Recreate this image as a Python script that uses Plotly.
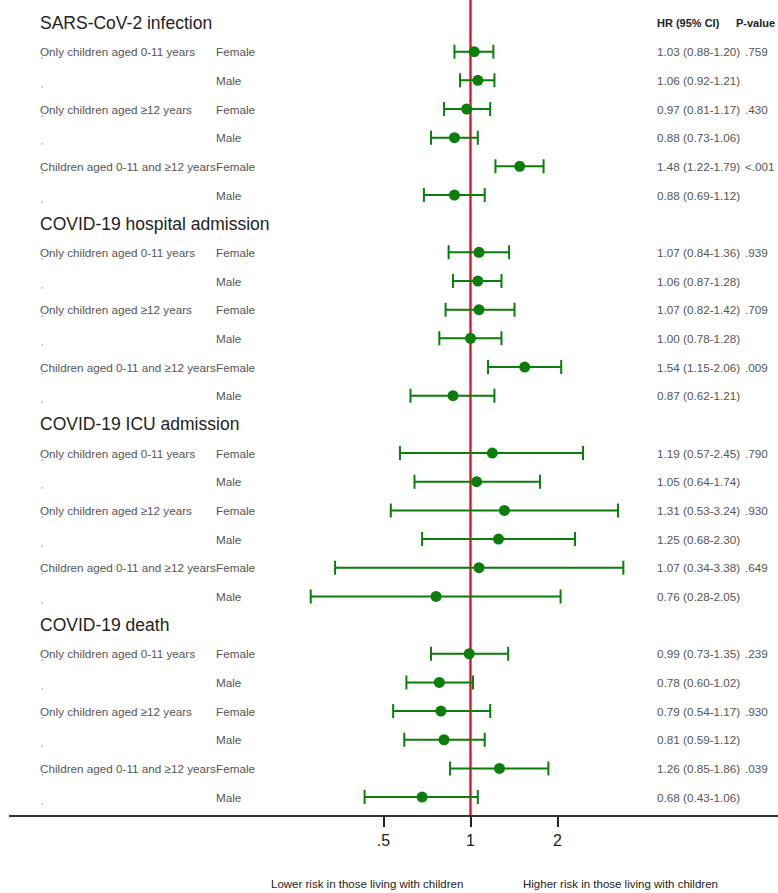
import plotly.graph_objects as go

# ---- data -------------------------------------------------------------
sections = [
    "SARS-CoV-2 infection",
    "COVID-19 hospital admission",
    "COVID-19 ICU admission",
    "COVID-19 death",
]
groups = [
    "Only children aged 0-11 years",
    "Only children aged ≥12 years",
    "Children aged 0-11 and ≥12 years",
]
sexes = ["Female", "Male"]

# hazard ratios, per section: 3 groups x (female, male)
hr = [
    [1.03, 1.06, 0.97, 0.88, 1.48, 0.88],
    [1.07, 1.06, 1.07, 1.00, 1.54, 0.87],
    [1.19, 1.05, 1.31, 1.25, 1.07, 0.76],
    [0.99, 0.78, 0.79, 0.81, 1.26, 0.68],
]
ci_low = [
    [0.88, 0.92, 0.81, 0.73, 1.22, 0.69],
    [0.84, 0.87, 0.82, 0.78, 1.15, 0.62],
    [0.57, 0.64, 0.53, 0.68, 0.34, 0.28],
    [0.73, 0.60, 0.54, 0.59, 0.85, 0.43],
]
ci_high = [
    [1.20, 1.21, 1.17, 1.06, 1.79, 1.12],
    [1.36, 1.28, 1.42, 1.28, 2.06, 1.21],
    [2.45, 1.74, 3.24, 2.30, 3.38, 2.05],
    [1.35, 1.02, 1.17, 1.12, 1.86, 1.06],
]
# interaction p-values, one per group (shown on the female row)
p_values = [
    [".759", ".430", "<.001"],
    [".939", ".709", ".009"],
    [".790", ".930", ".649"],
    [".239", ".930", ".039"],
]
tick_vals = [0.5, 1, 2]
tick_text = [".5", "1", "2"]

# ---- styling ----------------------------------------------------------
GREEN = "#0a7d0a"
RED = "#d0142c"
GREY = "#555555"
DARK = "#222222"
FONT = "Liberation Sans, Arial, sans-serif"

W, H = 778, 893
ML, MB = 9, 78
PLOT_W = W - ML
PLOT_H = H - MB
ROW_PX = 28.67
FIRST_ROW_PX = 23
PX_PER_DECADE = 289.0
ONE_PX = 461.5  # pixel offset of HR = 1 inside the plot area

x_range = [-ONE_PX / PX_PER_DECADE, (PLOT_W - ONE_PX) / PX_PER_DECADE]
y_top = -FIRST_ROW_PX / ROW_PX
y_bottom = (PLOT_H - FIRST_ROW_PX) / ROW_PX

LABEL_X = 38
SEX_X = 214
VALUE_X = 655
P_X = 743


def px_to_paper(px):
    return (px - ML) / PLOT_W


# ---- build rows -------------------------------------------------------
pt_x, pt_y, err_plus, err_minus = [], [], [], []
annotations = []


def label(text, x_px, y, size=11.7, color=GREY, bold=False, yshift=0):
    annotations.append(dict(
        text=f"<b>{text}</b>" if bold else text,
        x=px_to_paper(x_px), xref="paper", y=y, yref="y",
        xanchor="left", yanchor="middle", showarrow=False, yshift=yshift,
        font=dict(family=FONT, size=size, color=color),
    ))


slot = 0
for s, title in enumerate(sections):
    label(title, LABEL_X, slot, size=17.5, color=DARK)
    if s == 0:
        label("HR (95% CI)", VALUE_X, slot, size=11, color=DARK, bold=True)
        label("P-value", P_X - 9, slot, size=11, color=DARK, bold=True)
    slot += 1
    for g, grp in enumerate(groups):
        for k, sex in enumerate(sexes):
            i = g * 2 + k
            h, lo, hi = hr[s][i], ci_low[s][i], ci_high[s][i]
            pt_x.append(h)
            pt_y.append(slot)
            err_plus.append(hi - h)
            err_minus.append(h - lo)
            if k == 0:
                label(grp, LABEL_X, slot)
                label(p_values[s][g], P_X, slot)
            label(",", LABEL_X + 1, slot, size=8, color=GREY, yshift=-4)
            label(sex, SEX_X, slot)
            label(f"{h:.2f} ({lo:.2f}-{hi:.2f})", VALUE_X, slot)
            slot += 1

fig = go.Figure()

# reference line at HR = 1
fig.add_trace(go.Scatter(
    x=[1, 1], y=[y_top - 1, y_bottom + 1], mode="lines",
    line=dict(color=RED, width=2.3), hoverinfo="skip", showlegend=False,
))

# point estimates with 95% confidence intervals
fig.add_trace(go.Scatter(
    x=pt_x, y=pt_y, mode="markers",
    marker=dict(color=GREEN, size=11),
    error_x=dict(type="data", symmetric=False, array=err_plus,
                 arrayminus=err_minus, color=GREEN, thickness=2, width=7),
    showlegend=False,
))

# direction captions under the axis
for text, x_px in [("Lower risk in those living with children", 269),
                   ("Higher risk in those living with children", 521)]:
    annotations.append(dict(
        text=text, x=px_to_paper(x_px), xref="paper",
        y=(PLOT_H - 884) / PLOT_H, yref="paper",
        xanchor="left", yanchor="middle", showarrow=False,
        font=dict(family=FONT, size=11.5, color=DARK),
    ))

fig.update_layout(
    width=W, height=H,
    margin=dict(l=ML, r=0, t=0, b=MB),
    plot_bgcolor="white", paper_bgcolor="white",
    annotations=annotations,
    showlegend=False,
    xaxis=dict(
        type="log", range=x_range,
        tickvals=tick_vals, ticktext=tick_text,
        ticks="outside", ticklen=10, tickwidth=2, tickcolor="#222222",
        tickfont=dict(family=FONT, size=16, color=DARK),
        showline=True, linecolor="#333333", linewidth=2,
        showgrid=False, zeroline=False, fixedrange=True,
    ),
    yaxis=dict(
        range=[y_bottom, y_top], visible=False,
        showgrid=False, zeroline=False, fixedrange=True,
    ),
)

fig.write_html("out.html")
